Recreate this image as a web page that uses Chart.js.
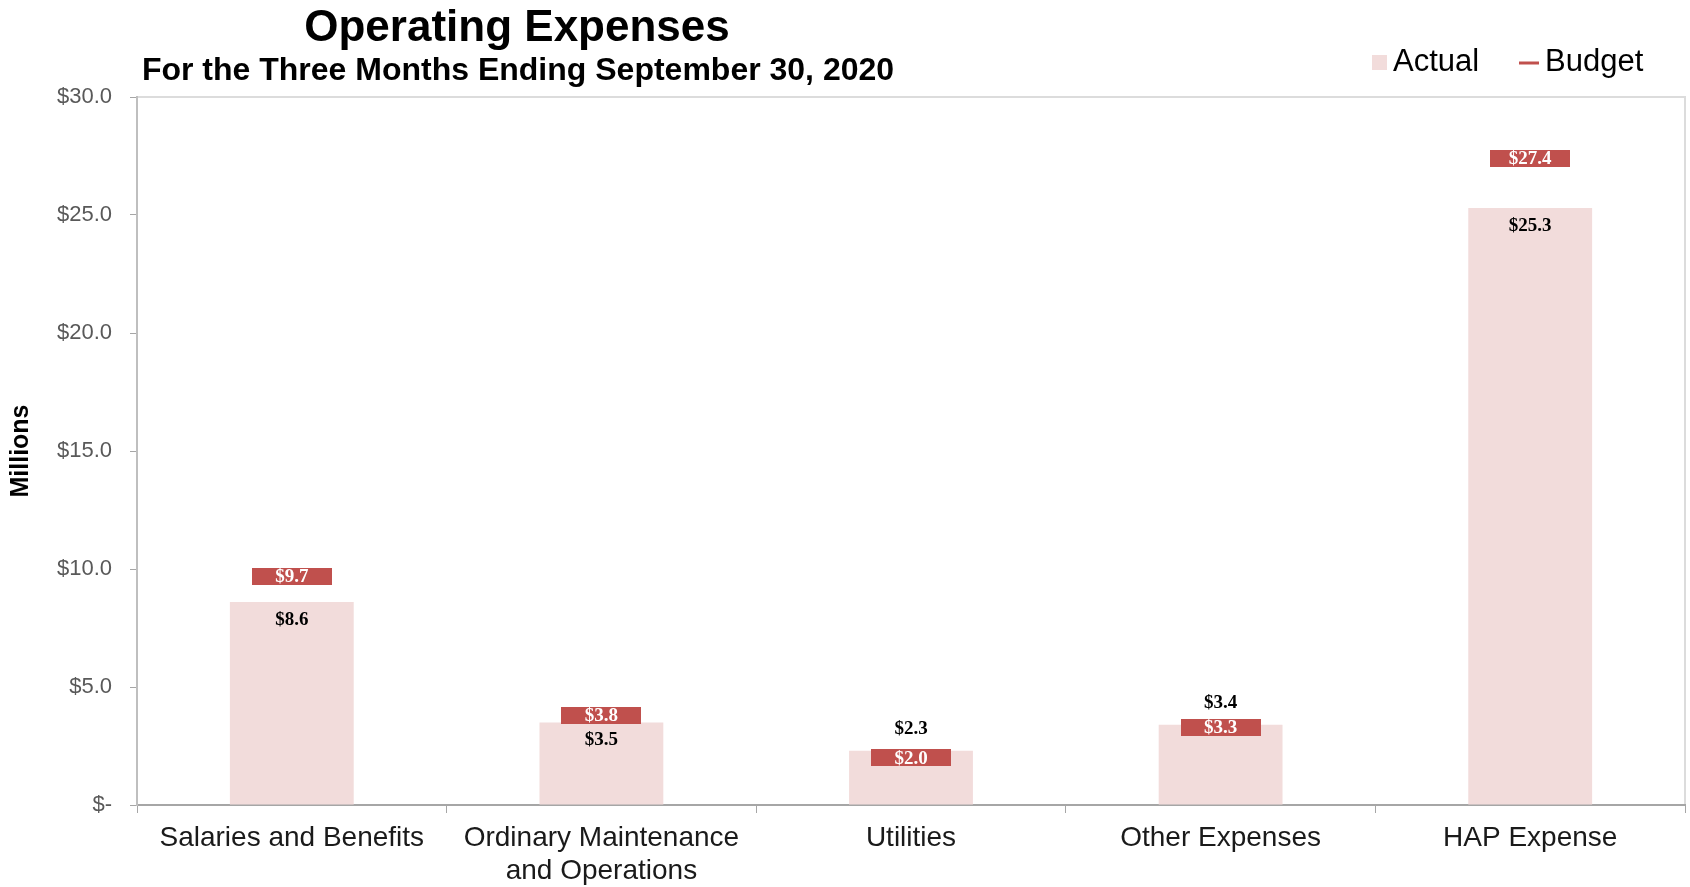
<!DOCTYPE html>
<html>
<head>
<meta charset="utf-8">
<title>Operating Expenses</title>
<script src="https://cdn.jsdelivr.net/npm/chart.js@4.4.1/dist/chart.umd.min.js"></script>
<style>
  html, body { margin: 0; padding: 0; background: #fff; }
  #wrap { width: 1690px; height: 887px; position: relative; }
</style>
</head>
<body>
<div id="wrap"><canvas id="myChart"></canvas></div>
<script>
'use strict';
const categories = [
  'Salaries and Benefits',
  ['Ordinary Maintenance', 'and Operations'],
  'Utilities',
  'Other Expenses',
  'HAP Expense'
];
const actualValues = [8.6, 3.5, 2.3, 3.4, 25.3];
const budgetValues = [9.7, 3.8, 2.0, 3.3, 27.4];
const yTickLabels = ['$-', '$5.0', '$10.0', '$15.0', '$20.0', '$25.0', '$30.0'];

const pink = '#f2dcdb';
const red = '#c0504d';
const sansFont = '"Liberation Sans", Arial, sans-serif';
const serifFont = '"Liberation Serif", "Times New Roman", serif';

// budget marker: flat red bar drawn as a point image
const marker = document.createElement('canvas');
marker.width = 80;
marker.height = 17;
let mctx = marker.getContext('2d');
mctx.fillStyle = red;
mctx.fillRect(0, 0, 80, 17);

function money(v){
  return '$' + v.toFixed(1);
}

const extras = {
  id: 'extras',
  beforeDraw(chart){
    const {ctx, chartArea: a} = chart;
    ctx.save();
    ctx.strokeStyle = '#dcdcdc';
    ctx.lineWidth = 2;
    ctx.strokeRect(a.left, a.top, a.right - a.left, a.bottom - a.top);
    ctx.restore();
  },
  afterDatasetsDraw(chart){
    const ctx = chart.ctx;
    const bars = chart.getDatasetMeta(0).data;
    const points = chart.getDatasetMeta(1).data;
    ctx.save();
    ctx.textAlign = 'center';
    ctx.textBaseline = 'middle';
    ctx.font = 'bold 19px ' + serifFont;
    for(let i = 0; i < points.length; i++){
      ctx.fillStyle = '#fff';
      ctx.fillText(money(budgetValues[i]), points[i].x, points[i].y + 1);
    }
    for(let i = 0; i < bars.length; i++){
      ctx.fillStyle = '#000';
      let y = actualValues[i] > budgetValues[i] ? bars[i].y - 22 : bars[i].y + 18;
      ctx.fillText(money(actualValues[i]), bars[i].x, y);
    }
    ctx.restore();
  },
  afterDraw(chart){
    const ctx = chart.ctx;
    ctx.save();
    ctx.fillStyle = '#000';
    ctx.textAlign = 'center';
    ctx.textBaseline = 'middle';
    ctx.font = 'bold 44px ' + sansFont;
    ctx.fillText('Operating Expenses', 517, 29);
    ctx.font = 'bold 32px ' + sansFont;
    ctx.fillText('For the Three Months Ending September 30, 2020', 518, 71);

    // legend
    ctx.textAlign = 'left';
    ctx.font = '31px ' + sansFont;
    ctx.fillStyle = pink;
    ctx.fillRect(1372, 55, 15, 15);
    ctx.fillStyle = '#000';
    ctx.fillText('Actual', 1393, 62);
    ctx.strokeStyle = red;
    ctx.lineWidth = 3;
    ctx.beginPath();
    ctx.moveTo(1519, 63);
    ctx.lineTo(1539, 63);
    ctx.stroke();
    ctx.fillText('Budget', 1545, 62);
    ctx.restore();
  }
};

let ctx = document.getElementById('myChart').getContext('2d');
let myChart = new Chart(ctx, {
  type: 'bar',
  data: {
    labels: categories,
    datasets: [{
      label: 'Actual',
      data: actualValues,
      backgroundColor: pink,
      borderWidth: 0,
      barPercentage: 0.4,
      categoryPercentage: 1.0,
      order: 1
    },{
      type: 'line',
      label: 'Budget',
      data: budgetValues,
      showLine: false,
      pointStyle: marker,
      borderColor: red,
      backgroundColor: red,
      order: 0
    }]
  },
  options: {
    responsive: true,
    maintainAspectRatio: false,
    animation: false,
    layout: { padding: { top: 97, right: 1, left: 0, bottom: 0 } },
    plugins: {
      legend: { display: false },
      tooltip: { enabled: false },
      title: { display: false }
    },
    scales: {
      x: {
        grid: { drawOnChartArea: false, drawTicks: true, tickLength: 8, color: '#a6a6a6', offset: true },
        border: { color: '#a6a6a6', width: 2 },
        ticks: {
          color: '#1a1a1a',
          font: { family: sansFont, size: 28 },
          padding: 8,
          maxRotation: 0,
          autoSkip: false
        },
        afterFit(scale){ scale.height = 82; }
      },
      y: {
        min: 0,
        max: 30,
        grid: { drawOnChartArea: false, drawTicks: true, tickLength: 7, color: '#a6a6a6' },
        border: { color: '#bfbfbf', width: 2 },
        ticks: {
          stepSize: 5,
          color: '#595959',
          font: { family: sansFont, size: 22 },
          padding: 18,
          callback: function(v, i){ return yTickLabels[i]; }
        },
        title: {
          display: true,
          text: 'Millions',
          color: '#000',
          font: { family: sansFont, size: 25, weight: 'bold' },
          padding: { top: 6, bottom: 0 }
        },
        afterFit(scale){ scale.width = 137; }
      }
    }
  },
  plugins: [extras]
});
</script>
</body>
</html>
